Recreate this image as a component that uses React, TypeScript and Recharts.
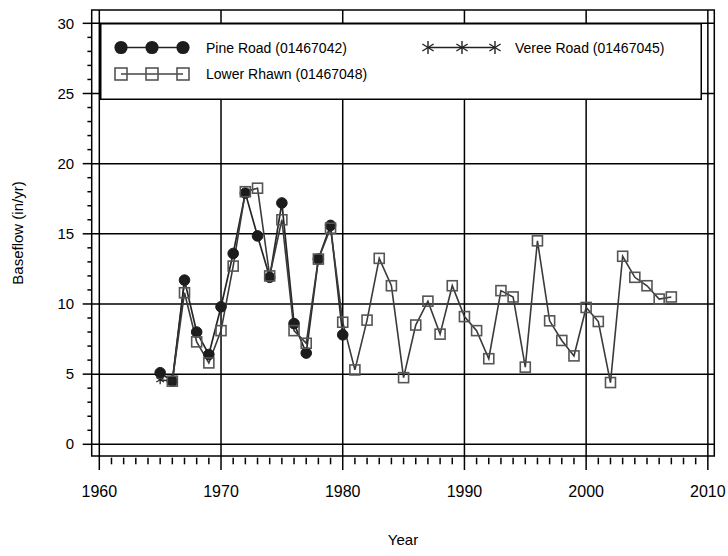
import React from 'react';
import { LineChart, Line, XAxis, YAxis, ReferenceLine, ReferenceArea } from 'recharts';

// Pine Road (01467042)
const pineYears = [1965, 1966, 1967, 1968, 1969, 1970, 1971, 1972, 1973, 1974, 1975, 1976, 1977, 1978, 1979, 1980];
const pineFlow = [5.1, 4.5, 11.7, 8.0, 6.4, 9.8, 13.6, 17.9, 14.85, 11.9, 17.2, 8.6, 6.5, 13.2, 15.6, 7.8];

// Veree Road (01467045)
const vereeYears = [1965, 1966, 1967];
const vereeFlow = [4.6, 4.5, 11.6];

// Lower Rhawn (01467048)
const rhawnYears = [
  1966, 1967, 1968, 1969, 1970, 1971, 1972, 1973, 1974, 1975, 1976, 1977, 1978, 1979,
  1980, 1981, 1982, 1983, 1984, 1985, 1986, 1987, 1988, 1989, 1990, 1991, 1992, 1993,
  1994, 1995, 1996, 1997, 1998, 1999, 2000, 2001, 2002, 2003, 2004, 2005, 2006, 2007,
];
const rhawnFlow = [
  4.5, 10.8, 7.3, 5.8, 8.1, 12.7, 18.0, 18.25, 12.0, 16.0, 8.1, 7.2, 13.2, 15.4,
  8.7, 5.3, 8.85, 13.25, 11.3, 4.75, 8.5, 10.2, 7.85, 11.3, 9.1, 8.1, 6.1, 10.95,
  10.5, 5.5, 14.5, 8.8, 7.4, 6.3, 9.75, 8.75, 4.4, 13.4, 11.9, 11.3, 10.35, 10.5,
];

const xMajor = [1960, 1970, 1980, 1990, 2000, 2010];
const yMajor = [0, 5, 10, 15, 20, 25, 30];
const xMinor = Array.from({ length: 51 }, (_, i) => 1960 + i);
const yMinor = Array.from({ length: 31 }, (_, i) => i);

const X_DOMAIN: [number, number] = [1959.375, 2010.53];
const Y_DOMAIN: [number, number] = [-0.834, 30.95];

const FONT = '"Liberation Sans", Arial, sans-serif';

const toRows = (years: number[], vals: number[]) => years.map((year, i) => ({ year, flow: vals[i] }));
const pineData = toRows(pineYears, pineFlow);
const vereeData = toRows(vereeYears, vereeFlow);
const rhawnData = toRows(rhawnYears, rhawnFlow);

const CircleDot = (p: any) => (
  <circle key={`c${p.index}`} cx={p.cx} cy={p.cy} r={5.3} fill="#1c1c1c" stroke="#1c1c1c" strokeWidth={1} />
);

const SquareDot = (p: any) => (
  <rect key={`s${p.index}`} x={p.cx - 5} y={p.cy - 5} width={10} height={10} fill="none" stroke="#555" strokeWidth={1.6} />
);

const StarDot = (p: any) => {
  const { cx, cy } = p;
  const r = 4.5;
  return (
    <g key={`a${p.index}`} stroke="#222" strokeWidth={1.3}>
      <line x1={cx} y1={cy - r} x2={cx} y2={cy + r} />
      <line x1={cx - r * 0.87} y1={cy - r * 0.5} x2={cx + r * 0.87} y2={cy + r * 0.5} />
      <line x1={cx - r * 0.87} y1={cy + r * 0.5} x2={cx + r * 0.87} y2={cy - r * 0.5} />
    </g>
  );
};

const XTick = (props: any) => {
  const { x, y, payload } = props;
  const major = payload.value % 10 === 0;
  return (
    <g>
      <line x1={x} x2={x} y1={major ? y : y + 1.7} y2={major ? y + 14 : y + 8.3} stroke="#000" strokeWidth={1.5} />
      {major && (
        <text x={x} y={y + 41} textAnchor="middle" fontSize={16} fontFamily={FONT} fill="#000">
          {payload.value}
        </text>
      )}
    </g>
  );
};

const YTick = (props: any) => {
  const { x, y, payload } = props;
  const major = payload.value % 5 === 0;
  return (
    <g>
      <line x1={major ? x - 9 : x - 4.3} x2={x} y1={y} y2={y} stroke="#000" strokeWidth={1.5} />
      {major && (
        <text x={x - 17.5} y={y + 5.2} textAnchor="end" fontSize={15} fontFamily={FONT} fill="#000">
          {payload.value}
        </text>
      )}
    </g>
  );
};

const LegendBox = () => (
  <svg
    width={602}
    height={77}
    style={{ position: 'absolute', left: 100, top: 22.5, background: '#fff' }}
  >
    <rect x={0.75} y={0.75} width={600.5} height={75.5} fill="#fff" stroke="#000" strokeWidth={1.5} />
    <g>
      <line x1={21} x2={83} y1={24.5} y2={24.5} stroke="#222" strokeWidth={1.6} />
      {[21, 52, 83].map((cx) => (
        <circle key={cx} cx={cx} cy={24.5} r={6.6} fill="#1c1c1c" />
      ))}
      <text x={106} y={29.5} fontSize={14} fontFamily={FONT} fill="#000">Pine Road (01467042)</text>
    </g>
    <g>
      <line x1={21} x2={83} y1={51} y2={51} stroke="#444" strokeWidth={1.6} />
      {[21, 52, 83].map((cx) => (
        <rect key={cx} x={cx - 6} y={45} width={12} height={12} fill="none" stroke="#555" strokeWidth={1.6} />
      ))}
      <text x={106} y={56} fontSize={14} fontFamily={FONT} fill="#000">Lower Rhawn (01467048)</text>
    </g>
    <g stroke="#222" strokeWidth={1.4}>
      <line x1={328} x2={395} y1={24.5} y2={24.5} />
      {[328, 362, 395].map((cx) => (
        <g key={cx}>
          <line x1={cx} x2={cx} y1={18} y2={31} />
          <line x1={cx - 5.6} x2={cx + 5.6} y1={21} y2={28} />
          <line x1={cx - 5.6} x2={cx + 5.6} y1={28} y2={21} />
        </g>
      ))}
    </g>
    <text x={415} y={29.5} fontSize={14} fontFamily={FONT} fill="#000">Veree Road (01467045)</text>
  </svg>
);

export default function App() {
  return (
    <div style={{ position: 'relative', width: 728, height: 556, background: '#fff' }}>
      <style>{'body{margin:0}'}</style>
      <LineChart width={728} height={556} margin={{ top: 10, right: 13.7, left: 0, bottom: 0 }}>
        <XAxis
          dataKey="year"
          type="number"
          domain={X_DOMAIN}
          allowDataOverflow
          ticks={xMinor}
          interval={0}
          tick={<XTick />}
          tickLine={false}
          tickSize={0}
          tickMargin={0}
          axisLine={false}
          height={100}
          label={{ value: 'Year', position: 'insideBottom', offset: 11, fontSize: 15, fontFamily: FONT, fill: '#000' }}
        />
        <YAxis
          type="number"
          domain={Y_DOMAIN}
          allowDataOverflow
          ticks={yMinor}
          interval={0}
          tick={<YTick />}
          tickLine={false}
          tickSize={0}
          tickMargin={0}
          axisLine={false}
          width={91.7}
          label={{
            content: ({ viewBox }: any) => (
              <text
                x={22.5}
                y={viewBox.y + viewBox.height / 2}
                transform={`rotate(-90 22.5 ${viewBox.y + viewBox.height / 2})`}
                textAnchor="middle"
                fontSize={15}
                fontFamily={FONT}
                fill="#000"
              >
                Baseflow (in/yr)
              </text>
            ),
          }}
        />
        {xMajor.map((v) => (
          <ReferenceLine key={`gx${v}`} x={v} stroke="#000" strokeWidth={1.5} />
        ))}
        {yMajor.map((v) => (
          <ReferenceLine key={`gy${v}`} y={v} stroke="#000" strokeWidth={1.5} />
        ))}
        <ReferenceArea
          x1={X_DOMAIN[0]}
          x2={X_DOMAIN[1]}
          y1={Y_DOMAIN[0]}
          y2={Y_DOMAIN[1]}
          fill="none"
          stroke="#000"
          strokeWidth={1.5}
        />
        <Line data={pineData} dataKey="flow" name="Pine Road (01467042)" type="linear" stroke="#262626" strokeWidth={1.7} dot={<CircleDot />} isAnimationActive={false} />
        <Line data={vereeData} dataKey="flow" name="Veree Road (01467045)" type="linear" stroke="#262626" strokeWidth={1.5} dot={<StarDot />} isAnimationActive={false} />
        <Line data={rhawnData} dataKey="flow" name="Lower Rhawn (01467048)" type="linear" stroke="#3a3a3a" strokeWidth={1.6} dot={<SquareDot />} isAnimationActive={false} />
      </LineChart>
      <LegendBox />
    </div>
  );
}
